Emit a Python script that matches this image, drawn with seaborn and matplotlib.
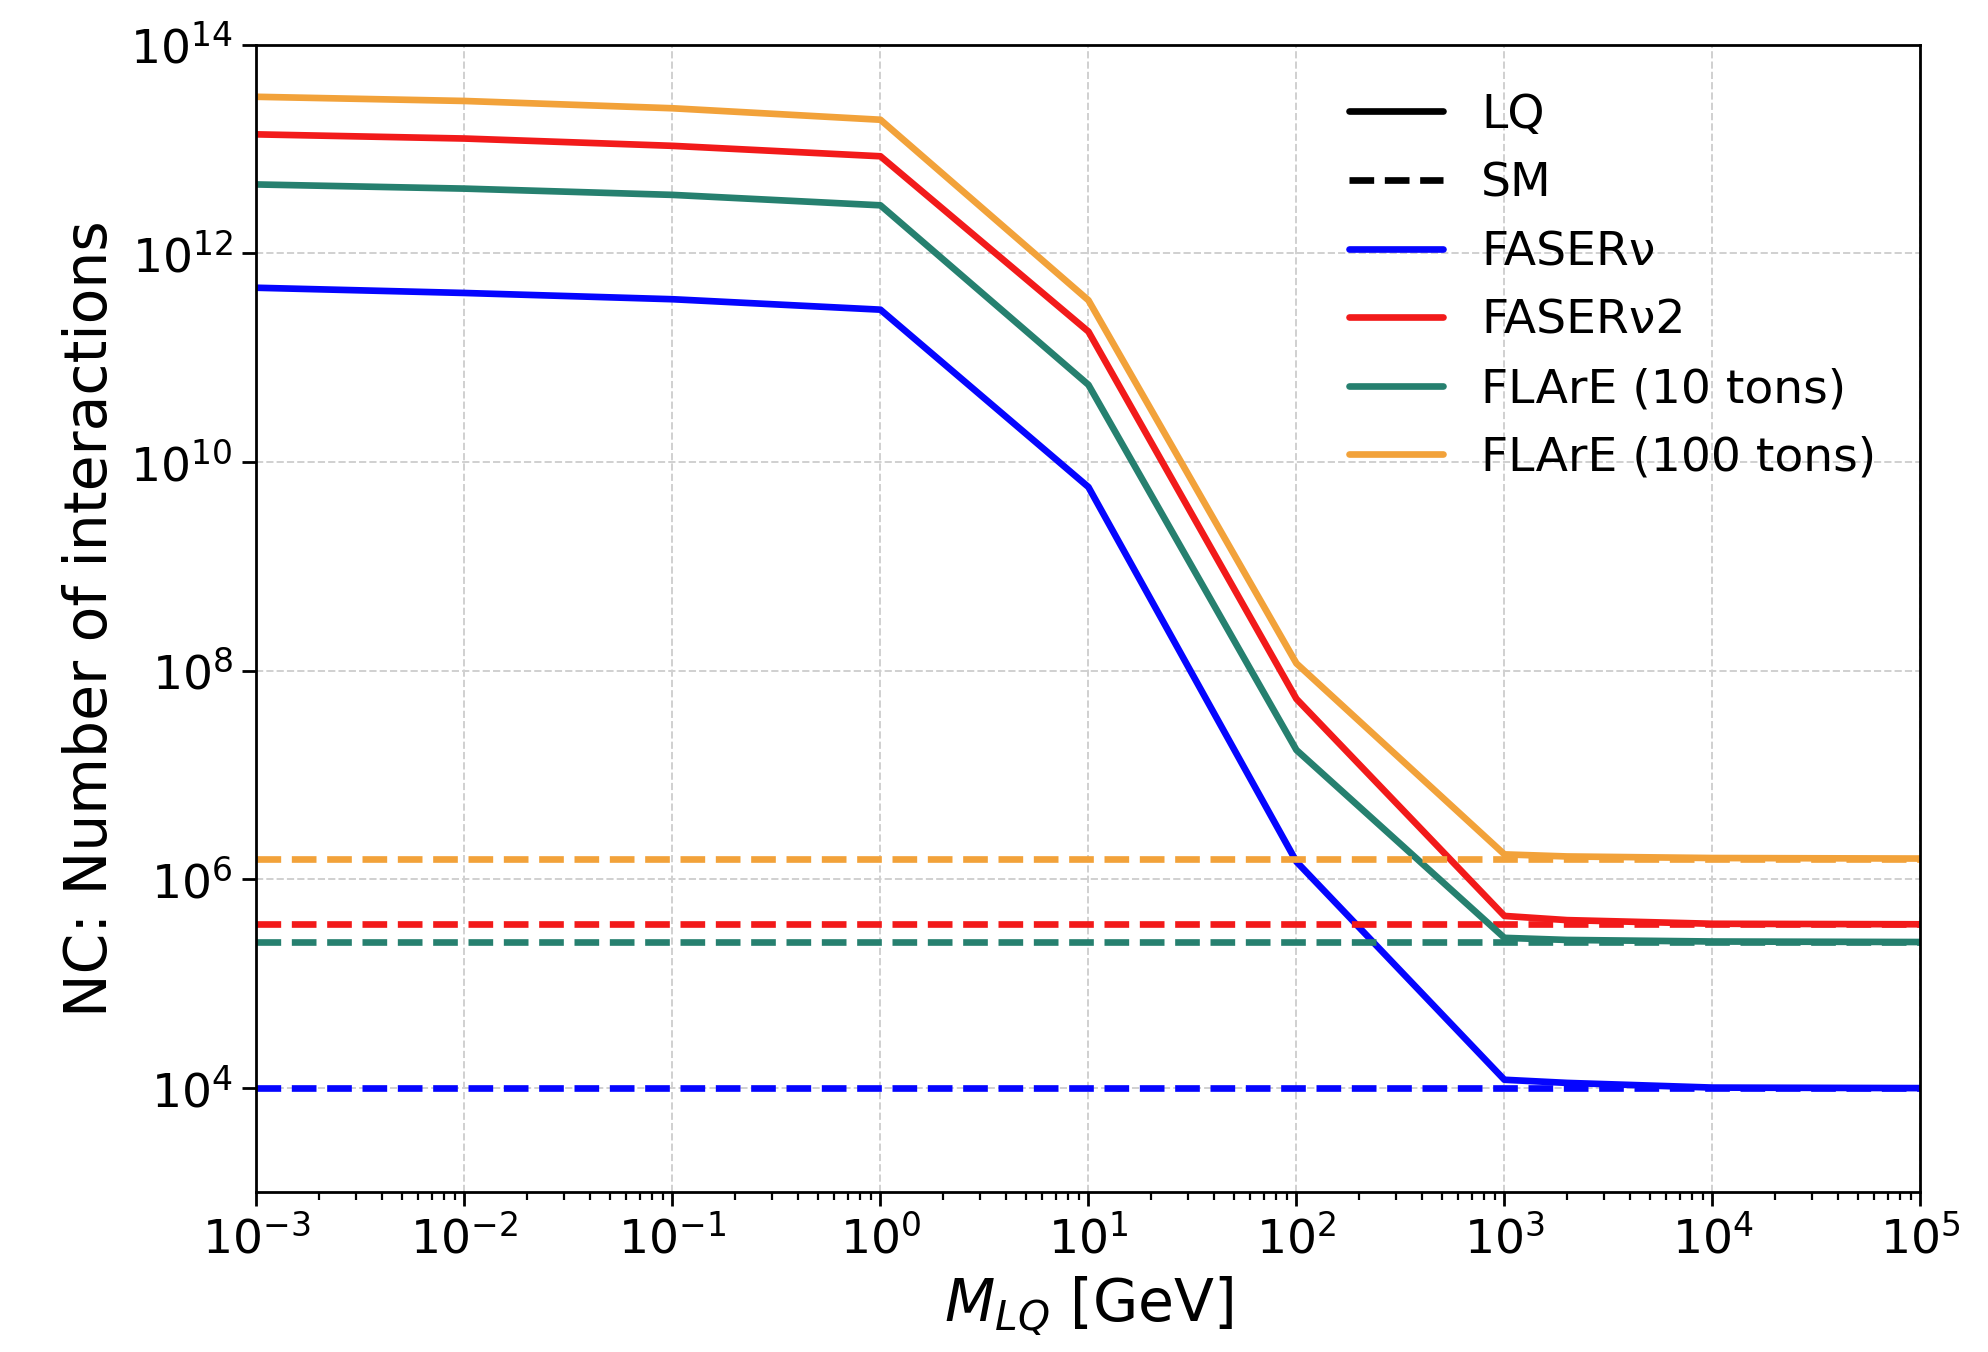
import numpy as np
import pandas as pd
import matplotlib
matplotlib.use("Agg")
import matplotlib.pyplot as plt
import seaborn as sns
from matplotlib.lines import Line2D
from matplotlib.ticker import NullLocator, FixedLocator

# leptoquark mass grid [GeV]
mass = [1e-3, 1e-2, 1e-1, 1e0, 1e1, 1e2, 1e3, 2e3, 1e4, 1e5]

# log10 of NC interaction counts (LQ)
lq_faser_nu = [11.67, 11.62, 11.56, 11.46, 9.76, 6.17, 4.08, 4.05, 4.005, 4.0]
lq_faser_nu2 = [13.14, 13.10, 13.03, 12.93, 11.25, 7.73, 5.65, 5.61, 5.575, 5.57]
lq_flare10 = [12.66, 12.62, 12.56, 12.46, 10.74, 7.24, 5.44, 5.42, 5.405, 5.40]
lq_flare100 = [13.50, 13.46, 13.39, 13.28, 11.55, 8.07, 6.24, 6.22, 6.205, 6.20]

# Standard Model expectation (log10), constant in mass
sm_levels = [4.0, 5.57, 5.40, 6.20]

labels = ["FASERν", "FASERν2", "FLArE (10 tons)", "FLArE (100 tons)"]
colors = ["#0505ff", "#f21a1a", "#26806f", "#f2a23a"]


def main():
    sns.set_style("white")
    plt.rcParams["font.family"] = ["DejaVu Sans"]
    plt.rcParams["mathtext.fontset"] = "dejavusans"
    for key in ["text.color", "axes.labelcolor", "xtick.color", "ytick.color"]:
        plt.rcParams[key] = "black"

    fig = plt.figure(figsize=(9.94, 6.76), dpi=200)
    ax = fig.add_axes([0.129, 0.118, 0.837, 0.849])

    lq_series = [lq_faser_nu, lq_faser_nu2, lq_flare10, lq_flare100]
    for lab, col, lq, sm in zip(labels, colors, lq_series, sm_levels):
        df = pd.DataFrame({"mass": mass, "n": 10 ** np.array(lq)})
        sns.lineplot(data=df, x="mass", y="n", ax=ax, color=col, lw=2.4)
        df_sm = pd.DataFrame({"mass": mass, "n": [10 ** sm] * len(mass)})
        sns.lineplot(data=df_sm, x="mass", y="n", ax=ax, color=col, lw=2.4,
                     linestyle="--")

    ax.set_xscale("log")
    ax.set_yscale("log")
    ax.set_xlim(1e-3, 1e5)
    ax.set_ylim(1e3, 1e14)
    ax.yaxis.set_major_locator(FixedLocator([1e4, 1e6, 1e8, 1e10, 1e12, 1e14]))
    ax.yaxis.set_minor_locator(NullLocator())
    ax.set_xticks([10.0 ** k for k in range(-3, 6)])

    ax.grid(True, which="major", linestyle="--", color="#d0d0d0", lw=0.7)
    ax.tick_params(axis="both", which="major", labelsize=17, direction="out",
                   length=5, width=1, bottom=True, left=True)
    ax.tick_params(axis="x", which="minor", direction="out", length=3,
                   width=0.8, bottom=True)
    for sp in ax.spines.values():
        sp.set_color("black")
        sp.set_linewidth(1.0)

    ax.set_xlabel("$M_{LQ}$ [GeV]", fontsize=21)
    ax.set_ylabel("NC: Number of interactions", fontsize=21)

    handles = [Line2D([], [], color="black", lw=2.4, linestyle="-"),
               Line2D([], [], color="black", lw=2.4, linestyle="--")]
    handles += [Line2D([], [], color=c, lw=2.4) for c in colors]
    ax.legend(handles, ["LQ", "SM"] + labels, loc="upper right",
              frameon=False, fontsize=17, labelspacing=0.5,
              handlelength=2.0, handletextpad=0.8,
              bbox_to_anchor=(0.999, 0.995))

    fig.savefig("out.png", dpi=200)
    plt.close(fig)


if __name__ == "__main__":
    main()
